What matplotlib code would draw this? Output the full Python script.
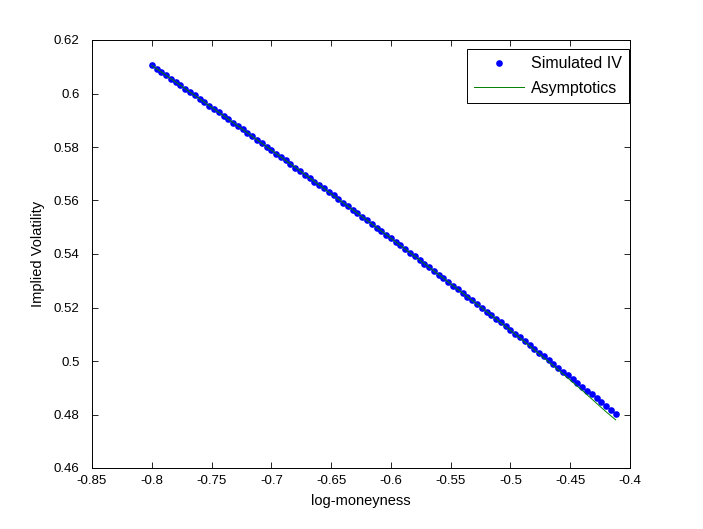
import matplotlib.pyplot as plt
import numpy as np

plt.rcParams['font.family'] = ['Liberation Sans', 'DejaVu Sans']

# log-moneyness grid of the simulated points
k_sim = [-0.800, -0.796, -0.792, -0.788, -0.784, -0.780, -0.776, -0.772, -0.768, -0.764,
         -0.760, -0.756, -0.752, -0.748, -0.744, -0.740, -0.736, -0.732, -0.728, -0.724,
         -0.720, -0.716, -0.712, -0.708, -0.704, -0.700, -0.696, -0.692, -0.688, -0.684,
         -0.680, -0.676, -0.672, -0.668, -0.664, -0.660, -0.656, -0.652, -0.648, -0.644,
         -0.640, -0.636, -0.632, -0.628, -0.624, -0.620, -0.616, -0.612, -0.608, -0.604,
         -0.600, -0.596, -0.592, -0.588, -0.584, -0.580, -0.576, -0.572, -0.568, -0.564,
         -0.560, -0.556, -0.552, -0.548, -0.544, -0.540, -0.536, -0.532, -0.528, -0.524,
         -0.520, -0.516, -0.512, -0.508, -0.504, -0.500, -0.496, -0.492, -0.488, -0.484,
         -0.480, -0.476, -0.472, -0.468, -0.464, -0.460, -0.456, -0.452, -0.448, -0.444,
         -0.440, -0.436, -0.432, -0.428, -0.424, -0.420, -0.416, -0.412]
iv_sim = [0.6105, 0.6093, 0.6080, 0.6068, 0.6055, 0.6043, 0.6030, 0.6018, 0.6005, 0.5993,
          0.5980, 0.5967, 0.5955, 0.5942, 0.5929, 0.5917, 0.5904, 0.5891, 0.5878, 0.5866,
          0.5853, 0.5840, 0.5827, 0.5814, 0.5801, 0.5788, 0.5775, 0.5763, 0.5750, 0.5737,
          0.5723, 0.5710, 0.5697, 0.5684, 0.5671, 0.5658, 0.5645, 0.5632, 0.5619, 0.5605,
          0.5592, 0.5579, 0.5566, 0.5552, 0.5539, 0.5526, 0.5512, 0.5499, 0.5485, 0.5472,
          0.5459, 0.5445, 0.5432, 0.5418, 0.5405, 0.5391, 0.5377, 0.5364, 0.5350, 0.5337,
          0.5323, 0.5309, 0.5296, 0.5282, 0.5268, 0.5254, 0.5241, 0.5227, 0.5213, 0.5199,
          0.5185, 0.5171, 0.5157, 0.5144, 0.5130, 0.5116, 0.5102, 0.5088, 0.5074, 0.5059,
          0.5045, 0.5031, 0.5017, 0.5003, 0.4989, 0.4975, 0.4960, 0.4946, 0.4932, 0.4918,
          0.4903, 0.4889, 0.4875, 0.4860, 0.4846, 0.4832, 0.4817, 0.4803]

# asymptotic approximation
k_asym = [-0.80, -0.78, -0.76, -0.74, -0.72, -0.70, -0.68, -0.66, -0.64, -0.62,
          -0.60, -0.58, -0.56, -0.54, -0.52, -0.50, -0.48, -0.46, -0.44, -0.42, -0.412]
iv_asym = [0.6105, 0.6043, 0.5980, 0.5917, 0.5853, 0.5788, 0.5724, 0.5658, 0.5592, 0.5526,
           0.5459, 0.5391, 0.5323, 0.5254, 0.5185, 0.5115, 0.5042, 0.4967, 0.4890, 0.4810,
           0.4780]

xticks = [-0.85, -0.8, -0.75, -0.7, -0.65, -0.6, -0.55, -0.5, -0.45, -0.4]
yticks = [0.46, 0.48, 0.5, 0.52, 0.54, 0.56, 0.58, 0.6, 0.62]

fig = plt.figure(figsize=(7.03, 5.29), dpi=100)
ax = fig.add_axes([92/703, 1 - 468/529, 538/703, 428/529])

ax.plot(k_sim, iv_sim, 'o', color='#0000ff', markersize=4.8, markeredgewidth=0,
        label='Simulated IV')
ax.plot(k_asym, iv_asym, '-', color='#008000', linewidth=0.7, label='Asymptotics')

ax.set_xlim(-0.85, -0.4)
ax.set_ylim(0.46, 0.62)
ax.set_xticks(xticks)
ax.set_yticks(yticks)
ax.set_xticklabels(['%g' % t for t in xticks])
ax.set_yticklabels(['%g' % t for t in yticks])
ax.tick_params(direction='in', length=4, width=0.6, top=True, right=True,
               labelsize=9.5)
ax.tick_params(axis='y', pad=9)
ax.tick_params(axis='x', pad=5)
for s in ax.spines.values():
    s.set_linewidth(0.7)

ax.set_xlabel('log-moneyness', fontsize=10.5, labelpad=5)
ax.set_ylabel('Implied Volatility', fontsize=10.5, labelpad=6)

leg = ax.legend(loc='upper right', bbox_to_anchor=(0.998, 0.979), fontsize=11.5,
                fancybox=False, framealpha=1, edgecolor='black', borderpad=0.45,
                handlelength=3.1, handletextpad=0.45, labelspacing=0.6,
                borderaxespad=0)
leg.get_frame().set_linewidth(0.7)

fig.savefig('out.png', dpi=100, facecolor='white')
